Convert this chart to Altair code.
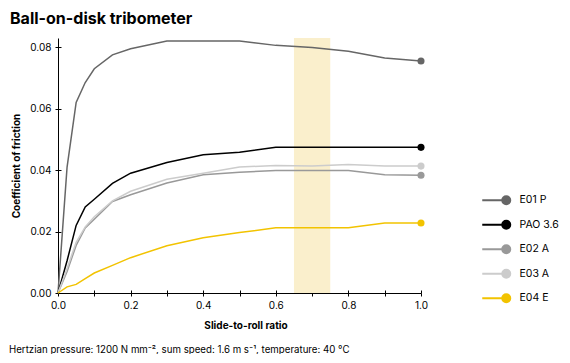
import altair as alt
import pandas as pd

x_vals = [0, 0.025, 0.05, 0.075, 0.1, 0.15, 0.2, 0.3, 0.4, 0.5, 0.6, 0.7, 0.8, 0.9, 1.0]
series_names = ["E01 P", "PAO 3.6", "E02 A", "E03 A", "E04 E"]
e01p = [0, 0.041, 0.062, 0.0685, 0.073, 0.0775, 0.0795, 0.082, 0.082, 0.082, 0.0806, 0.0799, 0.0787, 0.0765, 0.0755]
pao = [0, 0.0105, 0.022, 0.028, 0.0305, 0.0357, 0.039, 0.0425, 0.045, 0.0458, 0.0474, 0.0474, 0.0474, 0.0474, 0.0474]
e02a = [0, 0.007, 0.0155, 0.0212, 0.024, 0.0298, 0.032, 0.0358, 0.0385, 0.0393, 0.0399, 0.0399, 0.0399, 0.0385, 0.0383]
e03a = [0, 0.008, 0.0165, 0.0215, 0.0248, 0.030, 0.0331, 0.037, 0.039, 0.041, 0.0415, 0.0413, 0.0418, 0.0413, 0.0413]
e04e = [0, 0.002, 0.0028, 0.0047, 0.0065, 0.009, 0.0115, 0.0154, 0.018, 0.0197, 0.0212, 0.0212, 0.0212, 0.0228, 0.0228]
colors = ["#666666", "#000000", "#999999", "#cccccc", "#f2c300"]
band = [0.65, 0.75]
x_ticks = [0, 0.1, 0.2, 0.3, 0.4, 0.5, 0.6, 0.7, 0.8, 0.9, 1.0]
y_ticks = [0, 0.02, 0.04, 0.06, 0.08]

rows = []
for name, vals in zip(series_names, [e01p, pao, e02a, e03a, e04e]):
    for xv, yv in zip(x_vals, vals):
        rows.append({"series": name, "x": xv, "y": yv})
df = pd.DataFrame(rows)
band_df = pd.DataFrame({"x": [band[0]], "x2": [band[1]]})

FONT = "Inter"
W, H = 363, 255

xscale = alt.Scale(domain=[0, 1], nice=False)
yscale = alt.Scale(domain=[0, 0.083], nice=False)
color = alt.Color("series:N", scale=alt.Scale(domain=series_names, range=colors),
                  sort=series_names,
                  legend=alt.Legend(
                      title=None, orient="none", legendX=W + 80, legendY=157,
                      symbolType="M -6 0 L 0 0 M 1 0 A 1 1 0 1 1 -1 0 A 1 1 0 1 1 1 0",
                      symbolSize=64, symbolStrokeWidth=2, rowPadding=7.5,
                      labelFont=FONT, labelFontSize=10.5, labelColor="#000",
                      labelOffset=8))

band_layer = alt.Chart(band_df).mark_rect(color="#faefcc").encode(
    x=alt.X("x:Q", scale=xscale,
            axis=alt.Axis(values=x_ticks, title="Slide-to-roll ratio", labelFlush=False,
                          tickSize=3, titleX=W / 2 + 6,
                          labelExpr="round(datum.value*10)%2==0 ? format(datum.value,'.1f') : ''")),
    x2="x2:Q",
    y=alt.Y("lo:Q", scale=yscale,
            axis=alt.Axis(values=y_ticks, format=".2f", title="Coefficient of friction",
                          labelFlush=False, tickSize=3)),
    y2="hi:Q",
).transform_calculate(lo="0", hi="0.083")

# inward halves of the crossing ticks
inner = alt.Chart(band_df).mark_rect(opacity=0).encode(
    x=alt.X("x:Q", scale=xscale,
            axis=alt.Axis(values=x_ticks, orient="top", offset=-H, labels=False, domain=False,
                          title=None, tickSize=3)),
    y=alt.Y("lo:Q", scale=yscale,
            axis=alt.Axis(values=y_ticks, orient="right", offset=-W, labels=False, domain=False,
                          title=None, tickSize=3)),
).transform_calculate(lo="0")

lines = alt.Chart(df).mark_line(strokeWidth=1.5).encode(
    x=alt.X("x:Q", scale=xscale, axis=None),
    y=alt.Y("y:Q", scale=yscale, axis=None),
    color=color,
    order=alt.Order("x:Q"),
)

points = alt.Chart(df).transform_filter("datum.x == 1").mark_point(
    filled=True, size=50, opacity=1).encode(
    x=alt.X("x:Q", scale=xscale, axis=None), y=alt.Y("y:Q", scale=yscale, axis=None),
    color=alt.Color("series:N", scale=alt.Scale(domain=series_names, range=colors), legend=None))

foot = alt.Chart(pd.DataFrame({"t": ["Hertzian pressure: 1200 N mm\u207b\u00b2, sum speed: 1.6 m s\u207b\u00b9, temperature: 40 \u00b0C"]})).mark_text(
    align="left", baseline="alphabetic", font=FONT, fontSize=9.7, color="#000").encode(
    x=alt.value(-49), y=alt.value(H + 60), text="t:N")

chart = alt.layer(band_layer, inner, lines, points, foot).resolve_axis(
    x="independent", y="independent").properties(
    width=W, height=H,
    autosize=alt.AutoSizeParams(type="none"),
    padding={"left": 50, "top": 30, "right": 140, "bottom": 61},
    title=alt.TitleParams("Ball-on-disk tribometer", anchor="start", frame="group", dx=-48, offset=11,
                          font=FONT, fontSize=16, fontWeight="bold", color="#000"),
).configure_view(stroke=None).configure_axis(
    labelFont=FONT, labelFontSize=10, labelColor="#000", titleFont=FONT, titleFontSize=10,
    titleFontWeight="bold", titleColor="#000", domainColor="#000", tickColor="#000",
    grid=False, domainWidth=1, tickWidth=1, labelPadding=4,
).configure_axisX(titlePadding=10).configure_axisY(titlePadding=8)

chart.save("out.html", embed_options={"renderer": "svg", "actions": False})
